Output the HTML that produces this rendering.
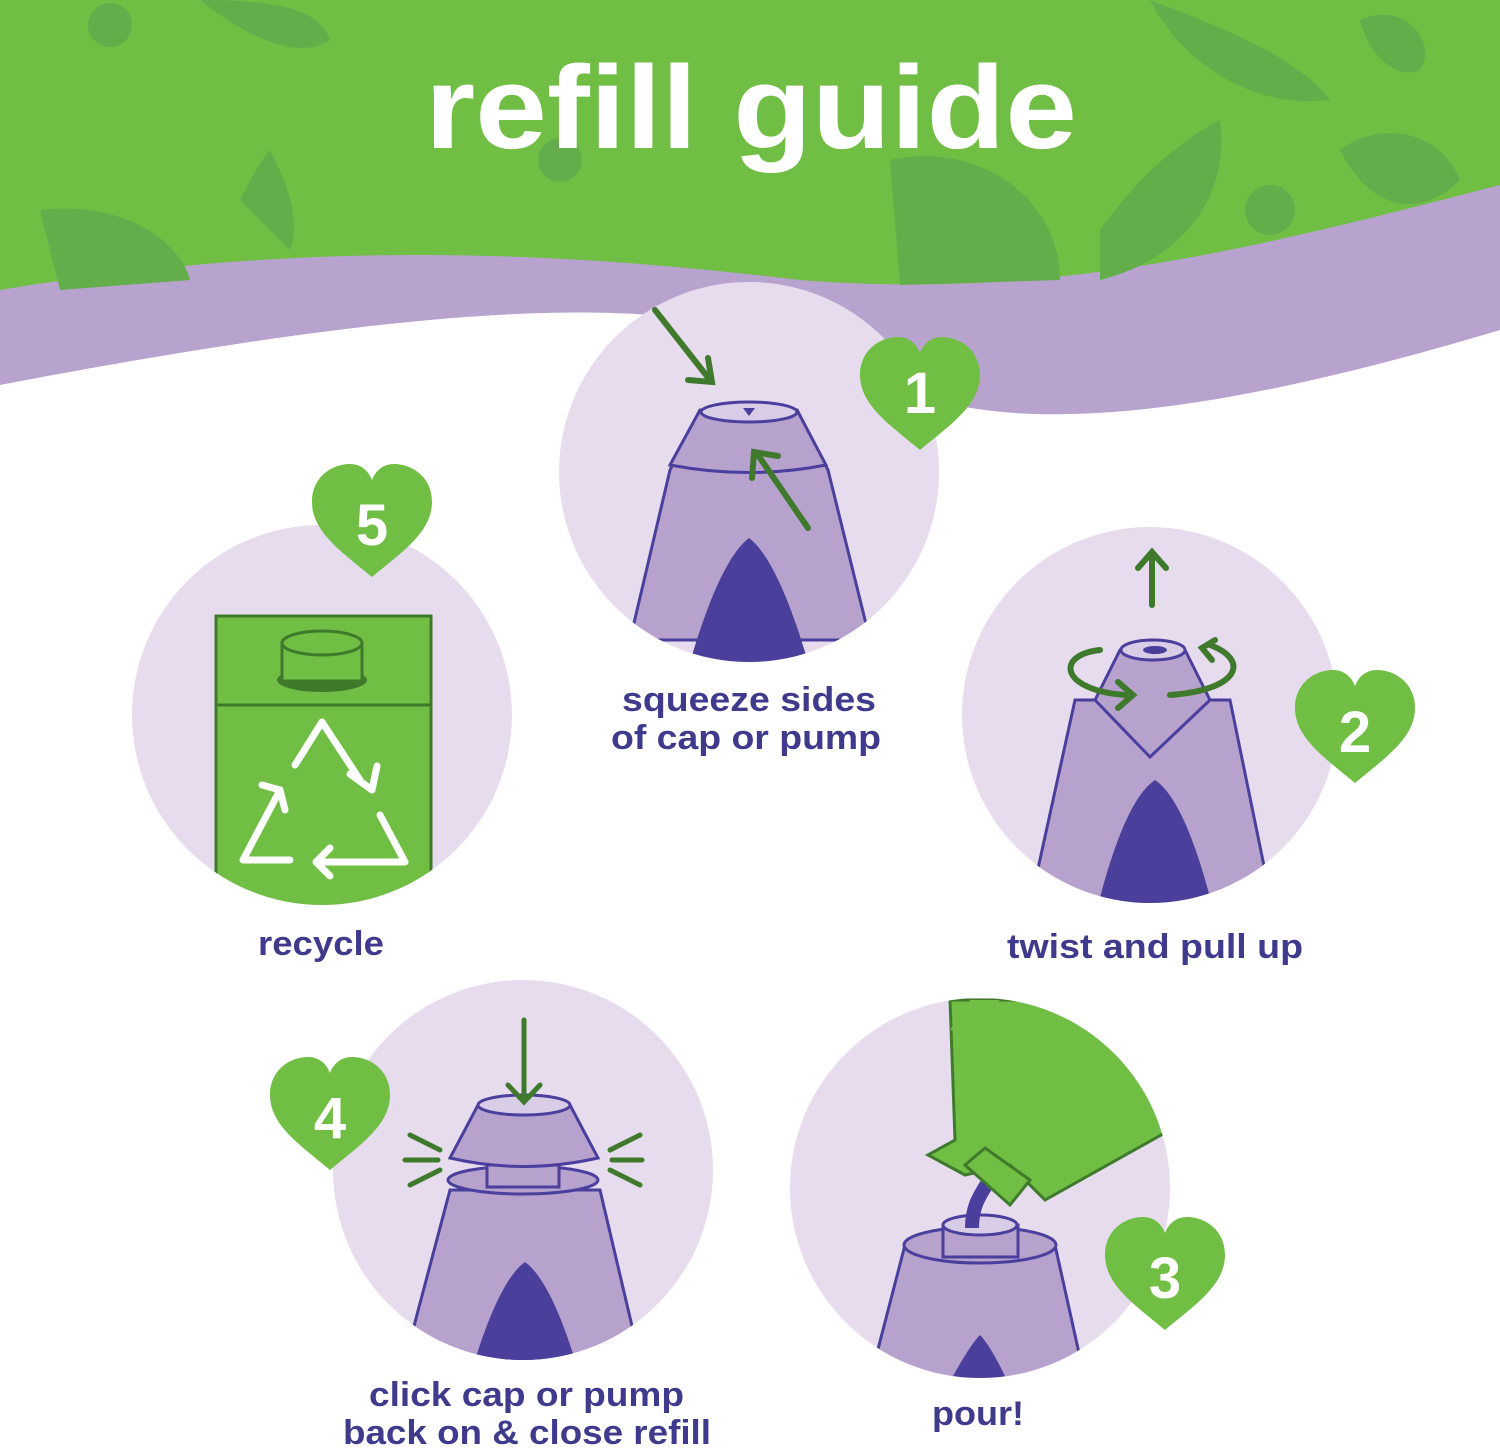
<!DOCTYPE html>
<html><head><meta charset="utf-8"><style>
body{margin:0;background:#fff}
svg{display:block}
text{font-family:"Liberation Sans",sans-serif;font-weight:bold}
</style></head><body>
<svg width="1500" height="1449" viewBox="0 0 1500 1449" xmlns="http://www.w3.org/2000/svg">
<defs>
<clipPath id="c1"><circle cx="749" cy="472" r="190"/></clipPath>
<clipPath id="c2"><circle cx="1150" cy="715" r="188"/></clipPath>
<clipPath id="c5"><circle cx="322" cy="715" r="190"/></clipPath>
<clipPath id="c4"><circle cx="523" cy="1170" r="190"/></clipPath>
<clipPath id="c3"><circle cx="980" cy="1188" r="190"/></clipPath>
<path id="heart" d="M0,55 C-30,30 -60,10 -60,-20 C-60,-45 -40,-58 -22,-58 C-10,-58 -3,-50 0,-42 C3,-50 10,-58 22,-58 C40,-58 60,-45 60,-20 C60,10 30,30 0,55Z"/>
</defs>
<path d="M0,0 H1500 V330 C1200,420 1000,440 880,380 C750,310 600,270 0,385Z" fill="#b8a3cf"/>
<path d="M0,0 H1500 V185 C1250,250 1050,300 800,280 C550,250 300,240 0,290Z" fill="#70be44"/>
<g fill="#63ad4b">
<circle cx="110" cy="25" r="22"/><circle cx="1270" cy="210" r="25"/><circle cx="560" cy="160" r="22"/>
<path d="M40,210 C120,200 180,240 190,280 L60,290Z"/>
<path d="M890,160 C980,140 1060,200 1060,280 L900,285Z"/>
<path d="M1100,230 C1150,160 1200,130 1220,120 C1230,200 1180,260 1100,280Z"/>
<path d="M1150,0 C1230,30 1300,60 1330,100 C1250,110 1180,60 1150,0Z"/>
<path d="M200,0 C250,40 300,60 330,40 C320,10 280,0 200,0Z"/>
<path d="M240,200 C260,160 270,150 270,150 C290,190 300,220 290,250Z"/>
<path d="M1360,20 C1400,0 1440,40 1420,70 C1400,80 1370,60 1360,20Z"/>
<path d="M1340,150 C1380,120 1440,130 1460,180 C1420,220 1370,210 1340,150Z"/>
</g>
<text x="425" y="148" font-size="118" fill="#fff" textLength="652" lengthAdjust="spacingAndGlyphs">refill guide</text>

<circle cx="749" cy="472" r="190" fill="#e6dcee"/>
<g clip-path="url(#c1)">
<path d="M670,470 L700,410 L797,410 L828,470 L870,640 L630,640 Z" fill="#b6a2cd" stroke="#4a3f9c" stroke-width="3"/>
<path d="M700,410 L797,410 L826,465 Q749,480 670,465Z" fill="#b6a2cd" stroke="#4a3f9c" stroke-width="3"/>
<ellipse cx="749" cy="412" rx="48" ry="10" fill="#d9cce6" stroke="#4a3f9c" stroke-width="3"/>
<path d="M690,662 Q720,560 749,538 Q778,560 808,662Z" fill="#4a3f9a"/>
</g>
<path d="M743,408 l6,8 l6,-8z" fill="#4a3f9a"/>
<g stroke="#3f7a2c" stroke-width="6" fill="none" stroke-linecap="round">
<path d="M655,310 L710,380"/><path d="M688,380 L712,382 L708,358"/>
<path d="M808,528 L758,455"/><path d="M752,478 L754,452 L778,456"/>
</g>
<text x="622" y="711" font-size="34" fill="#3f3a8c" textLength="254" lengthAdjust="spacingAndGlyphs">squeeze sides</text>
<text x="611" y="749" font-size="34" fill="#3f3a8c" textLength="270" lengthAdjust="spacingAndGlyphs">of cap or pump</text>
<use href="#heart" x="920" y="395" fill="#70be44"/>
<text x="920" y="413" text-anchor="middle" font-size="58" fill="#fff">1</text>

<circle cx="1150" cy="715" r="188" fill="#e6dcee"/>
<g clip-path="url(#c2)">
<path d="M1075,700 L1230,700 L1272,905 L1030,905 Z" fill="#b6a2cd" stroke="#4a3f9c" stroke-width="3"/>
<path d="M1095,700 L1120,650 L1185,650 L1210,700 L1150,757Z" fill="#b6a2cd" stroke="#4a3f9c" stroke-width="3"/>
<ellipse cx="1153" cy="650" rx="32" ry="10" fill="#d9cce6" stroke="#4a3f9c" stroke-width="3"/>
<ellipse cx="1155" cy="650" rx="12" ry="4" fill="#4a3f9a"/>
<path d="M1098,905 Q1125,800 1155,780 Q1185,800 1212,905Z" fill="#4a3f9a"/>
</g>
<g stroke="#3f7a2c" stroke-width="6" fill="none" stroke-linecap="round">
<path d="M1152,605 L1152,555"/><path d="M1138,568 L1152,552 L1166,568"/>
<path d="M1125,695 C1060,690 1055,655 1100,650"/><path d="M1118,682 L1133,695 L1118,708"/>
<path d="M1170,695 C1240,690 1250,660 1210,645"/><path d="M1215,640 L1202,648 L1212,660"/>
</g>
<text x="1007" y="958" font-size="34" fill="#3f3a8c" textLength="296" lengthAdjust="spacingAndGlyphs">twist and pull up</text>
<use href="#heart" x="1355" y="728" fill="#70be44"/>
<text x="1355" y="752" text-anchor="middle" font-size="58" fill="#fff">2</text>

<circle cx="322" cy="715" r="190" fill="#e6dcee"/>
<g clip-path="url(#c5)">
<rect x="216" y="616" width="215" height="300" fill="#70be44" stroke="#3f7a2c" stroke-width="3"/>
<line x1="216" y1="705" x2="431" y2="705" stroke="#3f7a2c" stroke-width="3"/>
<ellipse cx="322" cy="680" rx="45" ry="12" fill="#3f7a2c"/>
<rect x="282" y="643" width="80" height="38" fill="#70be44" stroke="#3f7a2c" stroke-width="3"/>
<ellipse cx="322" cy="643" rx="40" ry="12" fill="#70be44" stroke="#3f7a2c" stroke-width="3"/>
<g stroke="#fff" stroke-width="7" fill="none" stroke-linejoin="round" stroke-linecap="round">
<path d="M295,765 L322,722 L360,780"/><path d="M350,774 L372,790 L377,766"/>
<path d="M280,790 L243,860 L290,860"/><path d="M262,785 L280,790 L285,810"/>
<path d="M318,862 L405,862 L380,815"/><path d="M330,848 L316,862 L330,876"/>
</g>
</g>
<text x="258" y="955" font-size="34" fill="#3f3a8c" textLength="126" lengthAdjust="spacingAndGlyphs">recycle</text>
<use href="#heart" x="372" y="522" fill="#70be44"/>
<text x="372" y="545" text-anchor="middle" font-size="58" fill="#fff">5</text>

<circle cx="523" cy="1170" r="190" fill="#e6dcee"/>
<g clip-path="url(#c4)">
<path d="M450,1190 L600,1190 L640,1360 L405,1360 Z" fill="#b6a2cd" stroke="#4a3f9c" stroke-width="3"/>
<ellipse cx="523" cy="1180" rx="75" ry="14" fill="#b6a2cd" stroke="#4a3f9c" stroke-width="3"/>
<rect x="487" y="1165" width="72" height="22" fill="#b6a2cd" stroke="#4a3f9c" stroke-width="3"/>
<path d="M450,1158 L478,1105 L570,1105 L598,1158 Q523,1175 450,1158Z" fill="#b6a2cd" stroke="#4a3f9c" stroke-width="3"/>
<ellipse cx="524" cy="1105" rx="46" ry="10" fill="#d9cce6" stroke="#4a3f9c" stroke-width="3"/>
<path d="M475,1360 Q500,1280 525,1262 Q550,1280 575,1360Z" fill="#4a3f9a"/>
</g>
<g stroke="#3f7a2c" stroke-width="5" fill="none" stroke-linecap="round">
<path d="M524,1020 L524,1100"/><path d="M508,1085 L524,1102 L540,1085"/>
<path d="M405,1160 L438,1160"/><path d="M410,1135 L440,1150"/><path d="M410,1185 L440,1170"/>
<path d="M612,1160 L642,1160"/><path d="M610,1150 L640,1135"/><path d="M610,1170 L640,1185"/>
</g>
<text x="369" y="1406" font-size="34" fill="#3f3a8c" textLength="315" lengthAdjust="spacingAndGlyphs">click cap or pump</text>
<text x="343" y="1444" font-size="34" fill="#3f3a8c" textLength="368" lengthAdjust="spacingAndGlyphs">back on &amp; close refill</text>
<use href="#heart" x="330" y="1115" fill="#70be44"/>
<text x="330" y="1138" text-anchor="middle" font-size="58" fill="#fff">4</text>

<circle cx="980" cy="1188" r="190" fill="#e6dcee"/>
<g clip-path="url(#c3)">
<path d="M905,1245 L1055,1245 L1085,1380 L870,1380 Z" fill="#b6a2cd" stroke="#4a3f9c" stroke-width="3"/>
<ellipse cx="980" cy="1245" rx="76" ry="18" fill="#b6a2cd" stroke="#4a3f9c" stroke-width="3"/>
<rect x="943" y="1225" width="75" height="32" fill="#b6a2cd" stroke="#4a3f9c" stroke-width="3"/>
<ellipse cx="980" cy="1225" rx="37" ry="10" fill="#d9cce6" stroke="#4a3f9c" stroke-width="3"/>
<path d="M972,1228 C972,1200 985,1190 995,1170" stroke="#4a3f9c" stroke-width="14" fill="none"/>
<path d="M952,1378 Q970,1345 980,1335 Q990,1345 1006,1378Z" fill="#4a3f9a"/>
<path d="M950,1000 L1170,1000 L1170,1130 L1045,1200 L1010,1165 L965,1175 L928,1155 L955,1140 Z" fill="#70be44" stroke="#3f7a2c" stroke-width="3"/>
<path d="M965,1165 L985,1148 L1030,1180 L1010,1205 Z" fill="#70be44" stroke="#3f7a2c" stroke-width="3"/>
</g>
<path d="M950,1030 L970,1000 L1000,1000 L960,1030Z" fill="#70be44"/>
<text x="932" y="1425" font-size="34" fill="#3f3a8c" textLength="92" lengthAdjust="spacingAndGlyphs">pour!</text>
<use href="#heart" x="1165" y="1275" fill="#70be44"/>
<text x="1165" y="1298" text-anchor="middle" font-size="58" fill="#fff">3</text>
</svg>
</body></html>
